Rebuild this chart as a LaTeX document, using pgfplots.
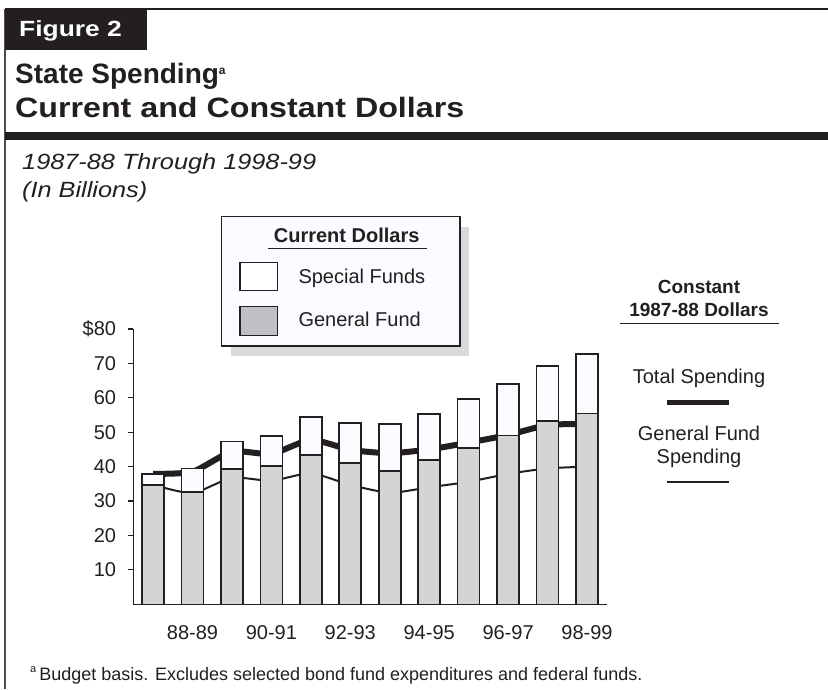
\documentclass[border=0pt]{standalone}
\usepackage{pgfplots}
\pgfplotsset{compat=1.18}
\usepackage{fontspec}
\setmainfont{Liberation Sans}
\newfontfamily\figfont[FakeStretch=1.2]{Liberation Sans}
\newfontfamily\titleAfont[FakeStretch=1.0]{Liberation Sans}
\newfontfamily\titleBfont[FakeStretch=1.15]{Liberation Sans}
\newfontfamily\subfont[FakeStretch=1.15]{Liberation Sans}
\definecolor{txt}{HTML}{231F20}
\definecolor{gfund}{HTML}{D4D4D2}
\definecolor{sfund}{HTML}{FBFCFF}
\definecolor{gswatch}{HTML}{C0C0C4}
\definecolor{legbg}{HTML}{FAFBFE}
\definecolor{shadow}{HTML}{D9D9D9}
\begin{document}
\begin{tikzpicture}[x=1pt,y=1pt,every node/.style={text=txt}]
\path[use as bounding box] (0,0) rectangle (828,689);
% frame
\draw[line width=2pt,txt] (5,680) -- (828,680);
\draw[line width=1.2pt,txt!80] (5,680) -- (5,0);
\fill[txt] (5,639) rectangle (147,681);
\node[anchor=base west,inner sep=0,text=white] at (19,652.3) {\figfont\fontsize{22}{26}\selectfont\bfseries Figure 2};
\node[anchor=base west,inner sep=0] at (15,605.7) {\titleAfont\fontsize{28}{32}\selectfont\bfseries State Spending\textsuperscript{\fontsize{12}{14}\selectfont a}};
\node[anchor=base west,inner sep=0] at (15,571) {\titleBfont\fontsize{28}{32}\selectfont\bfseries Current and Constant Dollars};
\fill[txt] (5,549) rectangle (828,557);
\node[anchor=base west,inner sep=0] at (22,519) {\subfont\fontsize{22}{26}\selectfont\itshape 1987-88 Through 1998-99};
\node[anchor=base west,inner sep=0] at (22,491) {\subfont\fontsize{22}{26}\selectfont\itshape (In Billions)};
% legend box
\fill[shadow] (230.7,333) rectangle (469,462.3);
\filldraw[fill=legbg,draw=txt,line width=1.5pt] (221.7,343) rectangle (460,472.3);
\node[anchor=base,inner sep=0] at (346.7,446.7) {\fontsize{20}{24}\selectfont\bfseries Current Dollars};
\draw[line width=1.5pt,txt] (268,440.7) -- (427,440.7);
\filldraw[fill=white,draw=txt,line width=1.2pt] (240,398.3) rectangle (277.7,426.7);
\filldraw[fill=gswatch,draw=txt,line width=1.2pt] (240,353.3) rectangle (277.7,382.3);
\node[anchor=base west,inner sep=0] at (298.3,405) {\fontsize{20}{24}\selectfont Special Funds};
\node[anchor=base west,inner sep=0] at (298.3,362.3) {\fontsize{20}{24}\selectfont General Fund};
% right legend
\node[anchor=base,inner sep=0] at (699,395.7) {\fontsize{19}{23}\selectfont\bfseries Constant};
\node[anchor=base,inner sep=0] at (699,372.3) {\fontsize{19}{23}\selectfont\bfseries 1987-88 Dollars};
\draw[line width=1.5pt,txt] (620,365.7) -- (779,365.7);
\node[anchor=base,inner sep=0] at (699,305.7) {\fontsize{20}{24}\selectfont Total Spending};
\draw[line width=5pt,txt] (667,286.3) -- (729,286.3);
\node[anchor=base,inner sep=0] at (699,248.3) {\fontsize{20}{24}\selectfont General Fund};
\node[anchor=base,inner sep=0] at (699,225) {\fontsize{20}{24}\selectfont Spending};
\draw[line width=2pt,txt] (667,207) -- (729,207);
% footnote
\node[anchor=base west,inner sep=0] at (30,9) {\fontsize{18}{22}\selectfont\raisebox{8pt}{\fontsize{11}{13}\selectfont a}\hspace{3pt}Budget basis. Excludes selected bond fund expenditures and federal funds.};
\begin{axis}[
  at={(133.3pt,84.7pt)}, anchor=south west,
  scale only axis, width=473.4pt, height=275.3pt,
  xmin=-0.5, xmax=11.5, ymin=0, ymax=80,
  axis lines=left,
  axis line style={-, line width=1.5pt, color=txt},
  ybar stacked, bar width=0.557,
  ytick={10,20,30,40,50,60,70,80},
  yticklabels={10,20,30,40,50,60,70,\$80},
  xtick={1,3,5,7,9,11},
  xticklabels={88-89,90-91,92-93,94-95,96-97,98-99},
  x tick style={draw=none},
  y tick style={line width=1.2pt, color=txt},
  tick align=outside, major tick length=5pt,
  /pgf/number format/assume math mode=true,
  ticklabel style={font=\fontsize{20}{24}\selectfont, text=txt},
  yticklabel style={anchor=east, inner sep=0pt, xshift=-12pt},
  xticklabel style={anchor=north, inner sep=0pt, text height=14.3pt, yshift=-16pt},
  clip=false,
]
\addplot[fill=gfund, draw=txt, line width=1.6pt] coordinates {
(0,34.7) (1,32.7) (2,39.3) (3,40.2) (4,43.4) (5,41.0) (6,38.8) (7,41.9) (8,45.5) (9,49.0) (10,53.3) (11,55.4)};
\addplot[fill=sfund, draw=txt, line width=1.6pt] coordinates {
(0,3.2) (1,6.8) (2,8.0) (3,8.7) (4,11.1) (5,11.6) (6,13.6) (7,13.4) (8,14.2) (9,15.1) (10,16.0) (11,17.3)};
\addplot[smooth, tension=0.35, stack plots=false, line width=2pt, color=txt, line join=round] coordinates {
(0,34.7) (1,32.3) (2,36.8) (3,35.9) (4,38.1) (5,34.7) (6,32.4) (7,34.0) (8,35.6) (9,37.9) (10,39.5) (11,40.0)};
\addplot[smooth, tension=0.35, stack plots=false, line width=6pt, color=txt, line join=round] coordinates {
(0,37.9) (1,38.5) (2,44.4) (3,43.7) (4,47.8) (5,44.9) (6,43.9) (7,45.0) (8,47.0) (9,49.2) (10,52.1) (11,52.4)};
\end{axis}
\end{tikzpicture}
\end{document}
